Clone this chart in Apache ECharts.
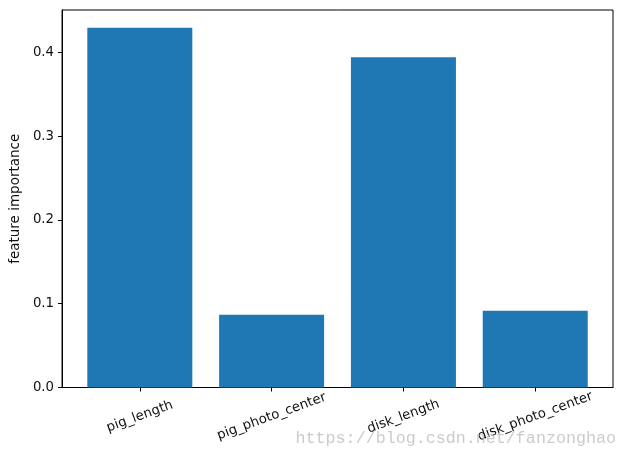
<!DOCTYPE html>
<html>
<head>
<meta charset="utf-8">
<script src="https://cdn.jsdelivr.net/npm/echarts@6/dist/echarts.min.js"></script>
<style>
html,body{margin:0;padding:0;background:#fff;}
#chart{width:626px;height:457px;}
</style>
</head>
<body>
<div id="chart"></div>
<script>
const categories = ['pig_length', 'pig_photo_center', 'disk_length', 'disk_photo_center'];
const importance = [0.4293, 0.0867, 0.394, 0.0915];
const yTicks = [0.0, 0.1, 0.2, 0.3, 0.4];
const positions = [0, 1, 2, 3];

const chart = echarts.init(document.getElementById('chart'), null, {renderer: 'canvas'});
const font = 'DejaVu Sans';
chart.setOption({
  backgroundColor: '#fff',
  animation: false,
  grid: {
    left: 61.5, right: 13, top: 10, bottom: 69.5,
    show: true, borderColor: '#000', borderWidth: 1, backgroundColor: 'transparent'
  },
  xAxis: {
    type: 'value',
    min: -0.59, max: 3.59,
    splitLine: {show: false},
    axisLine: {show: true, onZero: false, lineStyle: {color: '#000', width: 1}},
    axisTick: {show: true, customValues: positions, length: 4, lineStyle: {color: '#000'}},
    axisLabel: {
      customValues: positions,
      rotate: 20,
      align: 'center',
      verticalAlign: 'middle',
      margin: 29,
      fontFamily: font, fontSize: 13.3, color: '#111',
      formatter: v => categories[Math.round(v)]
    }
  },
  yAxis: {
    type: 'value',
    min: 0, max: 0.4505,
    interval: 0.1,
    name: 'feature importance',
    nameLocation: 'middle',
    nameGap: 38,
    nameTextStyle: {fontFamily: font, fontSize: 13.5, color: '#111'},
    splitLine: {show: false},
    axisLine: {show: true, onZero: false, lineStyle: {color: '#000', width: 1}},
    axisTick: {show: true, customValues: yTicks, length: 4, lineStyle: {color: '#000'}},
    axisLabel: {
      customValues: yTicks,
      margin: 8,
      fontFamily: font, fontSize: 13.3, color: '#111',
      formatter: v => v.toFixed(1)
    }
  },
  series: [{
    type: 'bar',
    data: positions.map((p, i) => [p, importance[i]]),
    barWidth: 105,
    itemStyle: {color: '#1f77b4'}
  }],
  graphic: [{
    type: 'text',
    right: 10,
    bottom: 10,
    silent: true,
    z: 100,
    style: {
      text: 'https://blog.csdn.net/fanzonghao',
      fontFamily: 'Liberation Mono',
      fontSize: 16.7,
      fill: 'rgba(190,190,190,0.8)'
    }
  }]
});
</script>
</body>
</html>
